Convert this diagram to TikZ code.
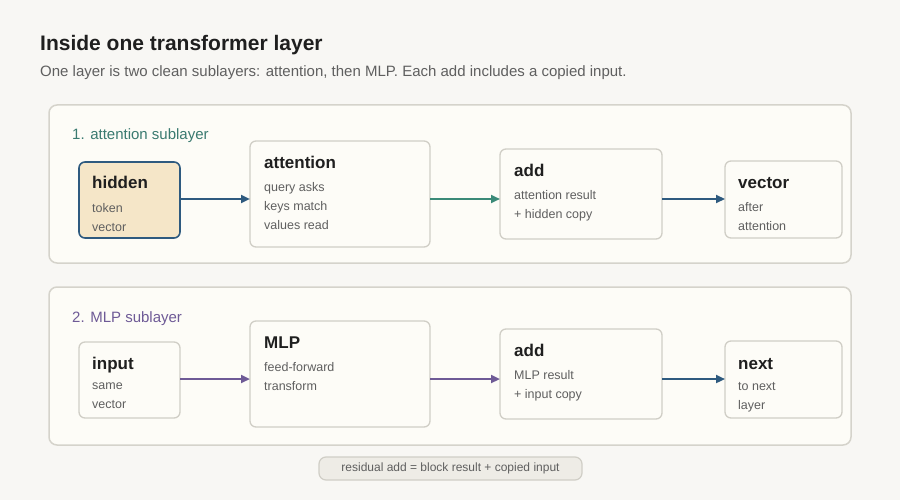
\documentclass[tikz,border=0pt]{standalone}
\usepackage{fontspec}
\setmainfont{Liberation Sans}
\usetikzlibrary{arrows.meta}
\definecolor{bg}{HTML}{F8F7F4}
\definecolor{panel}{HTML}{FDFCF7}
\definecolor{pline}{HTML}{D5D3CB}
\definecolor{bline}{HTML}{D0CEC6}
\definecolor{blue}{HTML}{2E5A7F}
\definecolor{teal}{HTML}{3A8A78}
\definecolor{tealt}{HTML}{3A7A70}
\definecolor{purp}{HTML}{6E5A96}
\definecolor{gtext}{HTML}{5F5F5F}
\definecolor{dtext}{HTML}{1F1F1F}
\definecolor{hfill}{HTML}{F5E6C8}
\definecolor{lfill}{HTML}{EEECE6}
\begin{document}
\begin{tikzpicture}[x=1pt,y=-1pt,
 panel/.style={draw=pline,fill=panel,rounded corners=8pt,line width=1.5pt},
 box/.style={draw=bline,fill=panel,rounded corners=6pt,line width=1.3pt},
 ttl/.style={anchor=base west,font=\fontsize{17}{20}\selectfont\bfseries,text=dtext,inner sep=0},
 sub/.style={anchor=north west,font=\fontsize{12.5}{19}\selectfont,text=gtext,inner sep=0,align=left},
 arr/.style={line width=2.6pt,-{Triangle[length=9pt,width=8pt]}}]
\fill[bg] (0,0) rectangle (900,500);
\useasboundingbox (0,0) rectangle (900,500);
\node[anchor=base west,inner sep=0,font=\fontsize{21}{24}\selectfont\bfseries,text=dtext] (t) at (40,51) {Inside one transformer layer};
\node[anchor=base west,inner sep=0,font=\fontsize{15}{18}\selectfont,text=gtext] (s) at (40,77) {One layer is two clean sublayers: attention, then MLP. Each add includes a copied input.};
% panels
\draw[panel] (49,105) rectangle (851,263);
\draw[panel] (49,287) rectangle (851,445);
\node[anchor=base west,inner sep=0,font=\fontsize{15}{18}\selectfont,text=tealt] (l1) at (72,140) {1. attention sublayer};
\node[anchor=base west,inner sep=0,font=\fontsize{15}{18}\selectfont,text=purp] (l2) at (72,322) {2. MLP sublayer};
% row 1
\draw[box,fill=hfill,draw=blue,line width=1.6pt] (79,162) rectangle (180,238);
\node[ttl] (h) at (92,189) {hidden};
\node[sub] (hs) at (92,203) {token\\vector};
\coordinate (hR) at (180,199);
\draw[box] (250,141) rectangle (430,247);
\node[ttl] (a) at (264,168) {attention};
\node[sub] (as) at (264,182) {query asks\\keys match\\values read};
\coordinate (aL) at (250,199); \coordinate (aR) at (430,199);
\draw[box] (500,149) rectangle (662,239);
\node[ttl] (ad) at (514,176) {add};
\node[sub] (ads) at (514,190) {attention result\\+ hidden copy};
\coordinate (dL) at (500,199); \coordinate (dR) at (662,199);
\draw[box] (725,161) rectangle (842,238);
\node[ttl] (v) at (738,189) {vector};
\node[sub] (vs) at (738,202) {after\\attention};
\coordinate (vL) at (725,199);
\draw[arr,blue] (hR) -- (aL);
\draw[arr,teal] (aR) -- (dL);
\draw[arr,blue] (dR) -- (vL);
% row 2
\draw[box] (79,342) rectangle (180,418);
\node[ttl] (i) at (92,369) {input};
\node[sub] (is) at (92,383) {same\\vector};
\coordinate (iR) at (180,379);
\draw[box] (250,321) rectangle (430,427);
\node[ttl] (m) at (264,348) {MLP};
\node[sub] (ms) at (264,362) {feed-forward\\transform};
\coordinate (mL) at (250,379); \coordinate (mR) at (430,379);
\draw[box] (500,329) rectangle (662,419);
\node[ttl] (a2) at (514,356) {add};
\node[sub] (a2s) at (514,370) {MLP result\\+ input copy};
\coordinate (eL) at (500,379); \coordinate (eR) at (662,379);
\draw[box] (725,341) rectangle (842,418);
\node[ttl] (n) at (738,369) {next};
\node[sub] (ns) at (738,382) {to next\\layer};
\coordinate (nL) at (725,379);
\draw[arr,purp] (iR) -- (mL);
\draw[arr,purp] (mR) -- (eL);
\draw[arr,blue] (eR) -- (nL);
% legend
\draw[draw=bline,fill=lfill,rounded corners=7pt,line width=1.2pt] (319,457) rectangle (582,480);
\node[font=\fontsize{12}{14}\selectfont,text=gtext] (lg) at (450.5,468.5) {residual add = block result + copied input};
\end{tikzpicture}
\end{document}
